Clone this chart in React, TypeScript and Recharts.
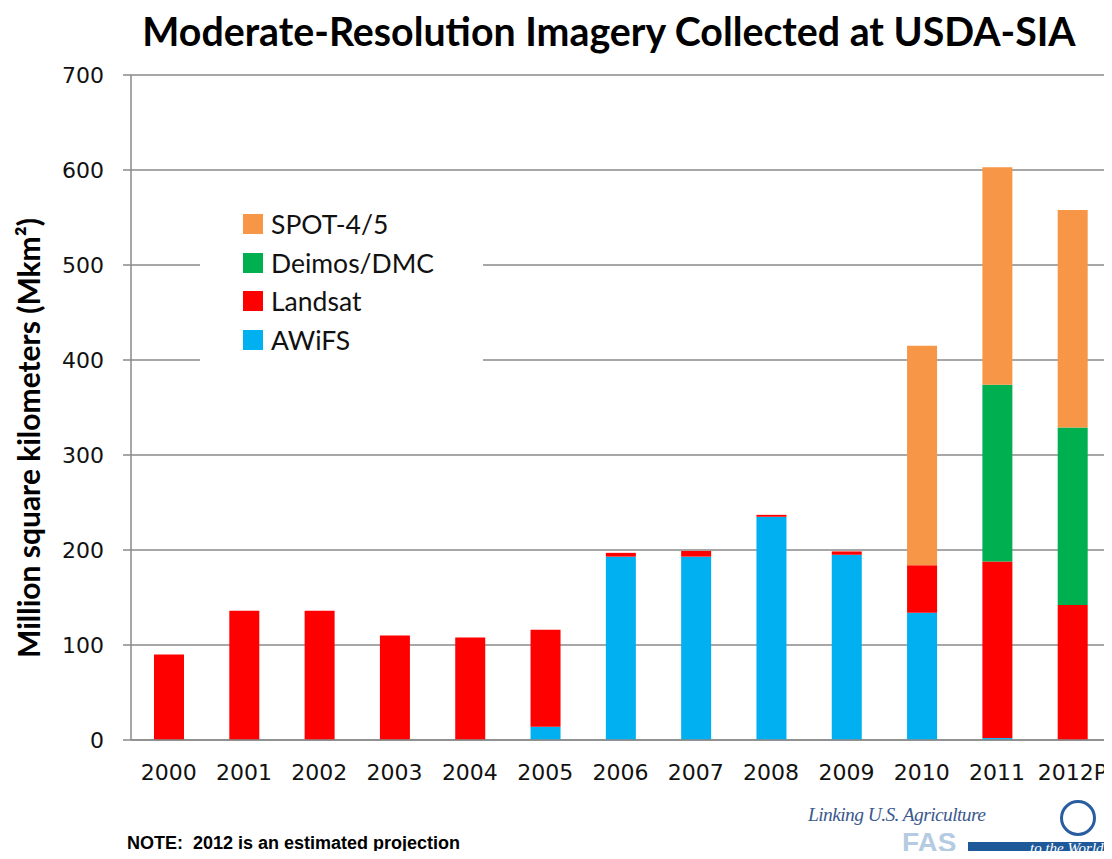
import React from 'react';
import { Bar, BarChart, CartesianGrid, XAxis, YAxis } from 'recharts';

const years = ['2000', '2001', '2002', '2003', '2004', '2005', '2006', '2007', '2008', '2009', '2010', '2011', '2012P'];
const awifs = [0, 0, 0, 0, 0, 14, 193, 193, 235, 195, 134, 2, 0];
const landsat = [90, 136, 136, 110, 108, 102, 4, 6, 2, 3.5, 50, 186, 142];
const deimos = [0, 0, 0, 0, 0, 0, 0, 0, 0, 0, 0, 186, 187];
const spot = [0, 0, 0, 0, 0, 0, 0, 0, 0, 0, 231, 229, 229];
const yTicks = [0, 100, 200, 300, 400, 500, 600, 700];
const boundaryTicks = [0, 1, 2, 3, 4, 5, 6, 7, 8, 9, 10, 11, 12, 13];

const series = [
  { key: 'awifs', name: 'AWiFS', color: '#00B0F0' },
  { key: 'landsat', name: 'Landsat', color: '#FF0000' },
  { key: 'deimos', name: 'Deimos/DMC', color: '#00B050' },
  { key: 'spot', name: 'SPOT-4/5', color: '#F79646' },
];

const data = years.map((year, i) => ({
  year,
  awifs: awifs[i],
  landsat: landsat[i],
  deimos: deimos[i],
  spot: spot[i],
}));

const sans = 'Lato, "Open Sans", sans-serif';
const grid = '#8a8a8a';

function LegendBox() {
  const items = [...series].reverse();
  return (
    <div
      style={{
        position: 'absolute',
        left: 200,
        top: 192,
        width: 283,
        height: 186,
        background: '#fff',
      }}
    >
      {items.map((s, i) => (
        <div
          key={s.key}
          style={{
            position: 'absolute',
            left: 43,
            top: 17 + i * 38.5,
            display: 'flex',
            alignItems: 'center',
            fontFamily: sans,
            fontSize: 26.5,
            color: '#111',
            lineHeight: '30px',
          }}
        >
          <span style={{ display: 'inline-block', width: 20, height: 20, background: s.color, marginRight: 8 }} />
          {s.name}
        </div>
      ))}
    </div>
  );
}

export default function App() {
  return (
    <div style={{ position: 'relative', width: 1112, height: 859, margin: -8, background: '#fff', overflow: 'hidden' }}>
      <div
        style={{
          position: 'absolute',
          left: 0,
          top: 8,
          width: 1218,
          textAlign: 'center',
          fontFamily: sans,
          fontWeight: 700,
          fontSize: 39.3,
          lineHeight: '46px',
          color: '#000',
        }}
      >
        Moderate-Resolution Imagery Collected at USDA-SIA
      </div>
      <BarChart
        width={1112}
        height={859}
        data={data}
        margin={{ top: 75, right: 1, bottom: 0, left: 0 }}
        barSize={30}
        style={{ overflow: 'visible' }}
      >
        <CartesianGrid horizontal vertical={false} stroke={grid} strokeWidth={1.5} />
        <XAxis
          xAxisId="edges"
          type="number"
          domain={[0, 13]}
          ticks={boundaryTicks}
          tickFormatter={() => ''}
          axisLine={false}
          tickLine={{ stroke: grid, strokeWidth: 1.5 }}
          tickSize={8}
          height={0}
          allowDataOverflow
        />
        <XAxis
          dataKey="year"
          height={119}
          axisLine={{ stroke: grid, strokeWidth: 1.5 }}
          tickLine={false}
          tickSize={0}
          tickMargin={24}
          tick={{ fill: '#111', fontSize: 22, fontFamily: 'DejaVu Sans' }}
          interval={0}
        />
        <YAxis
          width={131}
          domain={[0, 700]}
          ticks={yTicks}
          interval={0}
          axisLine={{ stroke: grid, strokeWidth: 1.5 }}
          tickLine={{ stroke: grid, strokeWidth: 1.5 }}
          tickSize={8}
          tickMargin={19}
          tick={{ fill: '#111', fontSize: 22, fontFamily: 'DejaVu Sans' }}
          label={{
            content: () => (
              <text
                x={32}
                y={438}
                transform="rotate(-90 32 438)"
                textAnchor="middle"
                dominantBaseline="middle"
                fontFamily={sans}
                fontWeight={700}
                fontSize={30}
                fill="#000"
              >
                Million square kilometers (Mkm²)
              </text>
            ),
          }}
        />
        <YAxis
          yAxisId="right"
          orientation="right"
          width={1}
          domain={[0, 700]}
          ticks={yTicks}
          tick={false}
          tickLine={false}
          axisLine={{ stroke: grid, strokeWidth: 1.5 }}
        />
        {series.map((s) => (
          <Bar key={s.key} dataKey={s.key} name={s.name} stackId="a" fill={s.color} isAnimationActive={false} />
        ))}
      </BarChart>
      <LegendBox />
      <div
        style={{
          position: 'absolute',
          left: 127,
          top: 833,
          fontFamily: '"Liberation Sans Narrow", sans-serif',
          fontWeight: 700,
          fontSize: 18,
          color: '#000',
        }}
      >
        NOTE:&nbsp; 2012 is an estimated projection
      </div>
      <div
        style={{
          position: 'absolute',
          left: 808,
          top: 804,
          fontFamily: '"Liberation Serif", serif',
          fontStyle: 'italic',
          fontSize: 19.5,
          color: '#3b5a8c',
          letterSpacing: -0.6,
        }}
      >
        Linking U.S. Agriculture
      </div>
      <div
        style={{
          position: 'absolute',
          left: 902,
          top: 828,
          fontFamily: 'Liberation Sans, sans-serif',
          fontWeight: 700,
          fontSize: 28,
          color: '#b5cbe2',
          lineHeight: '30px',
        }}
      >
        FAS
      </div>
      <div
        style={{
          position: 'absolute',
          left: 968,
          top: 842,
          width: 144,
          height: 17,
          background: '#1e5a9a',
        }}
      />
      <div
        style={{
          position: 'absolute',
          left: 1030,
          top: 840,
          fontFamily: '"Liberation Serif", serif',
          fontStyle: 'italic',
          fontSize: 15,
          color: '#fff',
        }}
      >
        to the World
      </div>
      <div
        style={{
          position: 'absolute',
          left: 1060,
          top: 800,
          width: 36,
          height: 36,
          borderRadius: '50%',
          border: '3px solid #2a5d9f',
          boxSizing: 'border-box',
        }}
      />
    </div>
  );
}
